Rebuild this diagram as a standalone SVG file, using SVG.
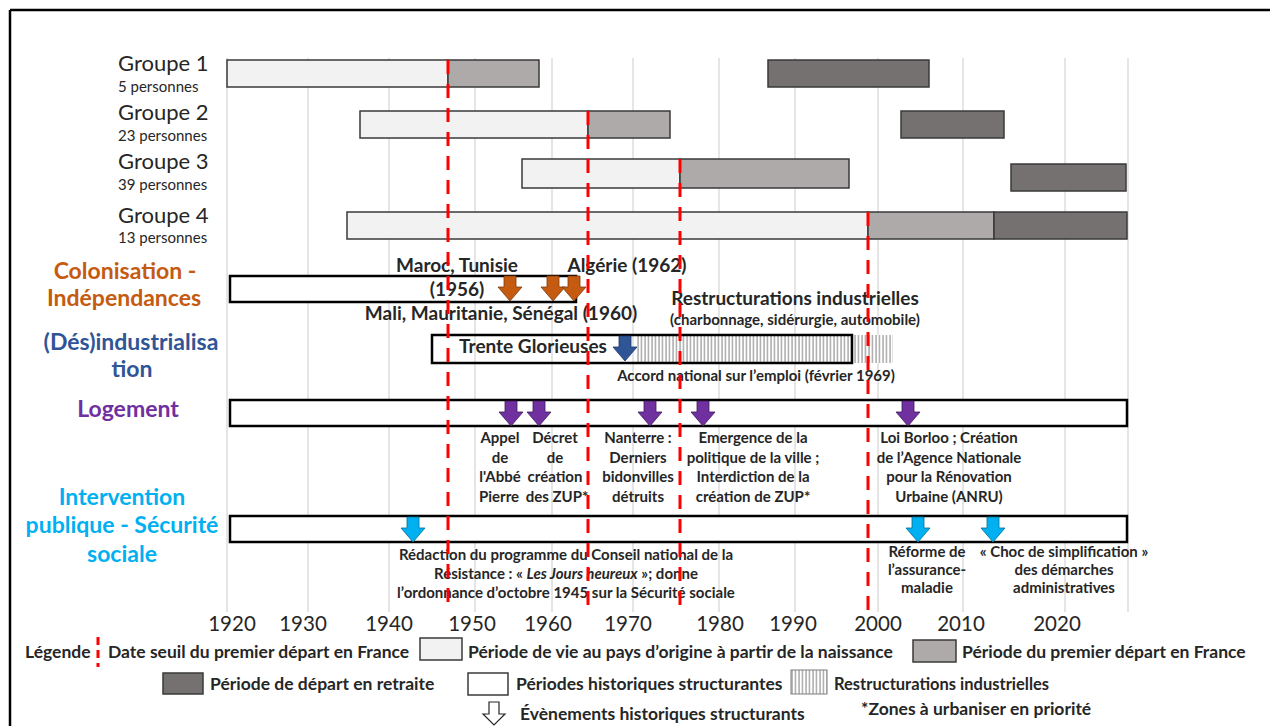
<svg xmlns="http://www.w3.org/2000/svg" width="1270" height="726" viewBox="0 0 1270 726">
<defs>
<style>
text{font-family:Lato,"Liberation Sans",sans-serif;fill:#262626}
.grp{font-size:22px}
.sub{font-size:15px}
.cat{font-size:23px;font-weight:bold;text-anchor:middle}
.b19{font-size:19px;font-weight:bold;text-anchor:middle}
.b15{font-size:15px;font-weight:bold;text-anchor:middle}
.yr{font-size:20.5px;text-anchor:middle}
.lg{font-size:17.5px;font-weight:bold}
.grid{stroke:#dcdcdc;stroke-width:1.5}
.red{stroke:#ff0000;stroke-width:3;stroke-dasharray:14 10;fill:none}
.light{fill:#f2f2f2;stroke:#3a3a3a;stroke-width:1.5}
.med{fill:#aeaaaa;stroke:#3a3a3a;stroke-width:1.5}
.dark{fill:#767171;stroke:#3a3a3a;stroke-width:1.5}
.box{fill:#fff;stroke:#000;stroke-width:2.5}
.ao{fill:#c55a11;stroke:#7f3a0b;stroke-width:0.8}
.ab{fill:#2f5597;stroke:#1f3864;stroke-width:0.8}
.ap{fill:#7030a0;stroke:#3d1a58;stroke-width:0.8}
.ac{fill:#00b0f0;stroke:#006d96;stroke-width:0.8}
</style>
<pattern id="hatch" width="3.5" height="10" patternUnits="userSpaceOnUse">
<rect width="3.5" height="10" fill="#fff"/>
<line x1="1" y1="0" x2="1" y2="10" stroke="#7f7f7f" stroke-width="1"/>
</pattern>
<path id="arr" d="M-6,0 h12 v11 h6 l-12,14 l-12,-14 h6 z"/>
</defs>
<rect width="1270" height="726" fill="#fff"/>
<g id="frame" stroke="#000" stroke-width="2.5">
<line x1="10" y1="10" x2="1270" y2="10"/>
<line x1="10" y1="10" x2="10" y2="726"/>
</g>
<g id="gridlines" class="grid">
<line x1="227" y1="58" x2="227" y2="612"/>
<line x1="308" y1="58" x2="308" y2="612"/>
<line x1="389" y1="58" x2="389" y2="612"/>
<line x1="475" y1="58" x2="475" y2="612"/>
<line x1="552" y1="58" x2="552" y2="612"/>
<line x1="633" y1="58" x2="633" y2="612"/>
<line x1="719" y1="58" x2="719" y2="612"/>
<line x1="795" y1="58" x2="795" y2="612"/>
<line x1="878" y1="58" x2="878" y2="612"/>
<line x1="963" y1="58" x2="963" y2="612"/>
<line x1="1065" y1="58" x2="1065" y2="612"/>
<line x1="1128" y1="58" x2="1128" y2="612"/>
</g>
<g id="groupe1">
<text class="grp" x="118" y="71">Groupe 1</text>
<text class="sub" x="118" y="92">5 personnes</text>
<rect class="light" x="227" y="60" width="221" height="27"/>
<rect class="med" x="448" y="60" width="91" height="27"/>
<rect class="dark" x="768" y="60" width="161" height="27"/>
</g>
<g id="groupe2">
<text class="grp" x="118" y="120">Groupe 2</text>
<text class="sub" x="118" y="141">23 personnes</text>
<rect class="light" x="360" y="111" width="228" height="27"/>
<rect class="med" x="588" y="111" width="82" height="27"/>
<rect class="dark" x="901" y="111" width="103" height="27"/>
</g>
<g id="groupe3">
<text class="grp" x="118" y="169">Groupe 3</text>
<text class="sub" x="118" y="190">39 personnes</text>
<rect class="light" x="522" y="159" width="158" height="29"/>
<rect class="med" x="680" y="159" width="169" height="29"/>
<rect class="dark" x="1011" y="164" width="115" height="27"/>
</g>
<g id="groupe4">
<text class="grp" x="118" y="223">Groupe 4</text>
<text class="sub" x="118" y="243">13 personnes</text>
<rect class="light" x="347" y="212" width="521" height="27"/>
<rect class="med" x="868" y="212" width="126" height="27"/>
<rect class="dark" x="994" y="212" width="133" height="27"/>
</g>
<g id="colonisation">
<text class="cat" x="125" y="279" style="fill:#c55a11">Colonisation -</text>
<text class="cat" x="124" y="306" style="fill:#c55a11">Indépendances</text>
<rect class="box" x="230" y="276" width="346" height="26"/>
<use href="#arr" x="510" y="276" class="ao"/>
<use href="#arr" x="553" y="276" class="ao"/>
<use href="#arr" x="574" y="276" class="ao"/>
<text class="b19" x="457" y="272">Maroc, Tunisie</text>
<text class="b19" x="457" y="296">(1956)</text>
<text class="b19" x="627" y="272">Algérie (1962)</text>
<text class="b19" x="501" y="320">Mali, Mauritanie, Sénégal (1960)</text>
</g>
<g id="desindustrialisation">
<text class="cat" x="131" y="350" style="fill:#2f5597">(Dés)industrialisa</text>
<text class="cat" x="132" y="377" style="fill:#2f5597">tion</text>
<rect x="852" y="335" width="41" height="28" fill="url(#hatch)"/>
<rect x="636" y="335" width="216" height="28" fill="url(#hatch)"/>
<rect class="box" x="432" y="335" width="420" height="28" style="fill:none"/>
<use href="#arr" x="625" y="336" class="ab"/>
<text class="b19" x="533" y="353">Trente Glorieuses</text>
<text class="b19" x="795" y="305">Restructurations industrielles</text>
<text class="b15" x="795" y="325">(charbonnage, sidérurgie, automobile)</text>
<text class="b15" x="756" y="381">Accord national sur l’emploi (février 1969)</text>
</g>
<g id="logement">
<text class="cat" x="128" y="417" style="fill:#7030a0">Logement</text>
<rect class="box" x="230" y="400" width="897" height="26"/>
<use href="#arr" x="511" y="401" class="ap"/>
<use href="#arr" x="539" y="401" class="ap"/>
<use href="#arr" x="650" y="401" class="ap"/>
<use href="#arr" x="703" y="401" class="ap"/>
<use href="#arr" x="908" y="401" class="ap"/>
<text class="b15" x="500" y="443">Appel</text>
<text class="b15" x="500" y="463">de</text>
<text class="b15" x="500" y="482">l'Abbé</text>
<text class="b15" x="499" y="502">Pierre</text>
<text class="b15" x="555" y="443">Décret</text>
<text class="b15" x="555" y="463">de</text>
<text class="b15" x="555" y="482">création</text>
<text class="b15" x="557" y="502">des ZUP*</text>
<text class="b15" x="638" y="443">Nanterre :</text>
<text class="b15" x="638" y="463">Derniers</text>
<text class="b15" x="638" y="482">bidonvilles</text>
<text class="b15" x="638" y="502">détruits</text>
<text class="b15" x="753" y="443">Emergence de la</text>
<text class="b15" x="753" y="463">politique de la ville ;</text>
<text class="b15" x="753" y="482">Interdiction de la</text>
<text class="b15" x="753" y="502">création de ZUP*</text>
<text class="b15" x="949" y="443">Loi Borloo ; Création</text>
<text class="b15" x="949" y="463">de l’Agence Nationale</text>
<text class="b15" x="949" y="482">pour la Rénovation</text>
<text class="b15" x="949" y="502">Urbaine (ANRU)</text>
</g>
<g id="intervention">
<text class="cat" x="122" y="505" style="fill:#00b0f0">Intervention</text>
<text class="cat" x="122" y="533" style="fill:#00b0f0">publique - Sécurité</text>
<text class="cat" x="122" y="562" style="fill:#00b0f0">sociale</text>
<rect class="box" x="230" y="516" width="897" height="26"/>
<use href="#arr" x="413" y="517" class="ac"/>
<use href="#arr" x="918" y="517" class="ac"/>
<use href="#arr" x="993" y="517" class="ac"/>
<text class="b15" x="566" y="560">Rédaction du programme du Conseil national de la</text>
<text class="b15" x="566" y="579">Résistance : « <tspan font-style="italic">Les Jours heureux</tspan> »; donne</text>
<text class="b15" x="566" y="598">l’ordonnance d’octobre 1945 sur la Sécurité sociale</text>
<text class="b15" x="927" y="557">Réforme de</text>
<text class="b15" x="927" y="575">l’assurance-</text>
<text class="b15" x="927" y="593">maladie</text>
<text class="b15" x="1064" y="557">« Choc de simplification »</text>
<text class="b15" x="1064" y="575">des démarches</text>
<text class="b15" x="1064" y="593">administratives</text>
</g>
<g id="seuils">
<line class="red" x1="448" y1="60" x2="448" y2="612"/>
<line class="red" x1="588" y1="111" x2="588" y2="612"/>
<line class="red" x1="680" y1="159" x2="680" y2="612"/>
<line class="red" x1="868" y1="212" x2="868" y2="612"/>
</g>
<g id="axis">
<text class="yr" x="232" y="631">1920</text>
<text class="yr" x="303" y="631">1930</text>
<text class="yr" x="389" y="631">1940</text>
<text class="yr" x="472" y="631">1950</text>
<text class="yr" x="548" y="631">1960</text>
<text class="yr" x="628" y="631">1970</text>
<text class="yr" x="720" y="631">1980</text>
<text class="yr" x="793" y="631">1990</text>
<text class="yr" x="878" y="631">2000</text>
<text class="yr" x="961" y="631">2010</text>
<text class="yr" x="1057" y="631">2020</text>
</g>
<g id="legende">
<text class="lg" x="25" y="658">Légende</text>
<line x1="98" y1="637" x2="98" y2="667" stroke="#ff0000" stroke-width="3" stroke-dasharray="8 5"/>
<text class="lg" x="108" y="658">Date seuil du premier départ en France</text>
<rect class="light" x="420" y="638" width="42" height="22"/>
<text class="lg" x="468" y="658">Période de vie au pays d’origine à partir de la naissance</text>
<rect class="med" x="913" y="640" width="43" height="22"/>
<text class="lg" x="962" y="658">Période du premier départ en France</text>
<rect class="dark" x="163" y="673" width="40" height="21"/>
<text class="lg" x="210" y="690">Période de départ en retraite</text>
<rect class="light" x="468" y="673" width="40" height="22" style="fill:#fff"/>
<text class="lg" x="516" y="690">Périodes historiques structurantes</text>
<rect x="791" y="670" width="36" height="24" fill="url(#hatch)" stroke="#7f7f7f" stroke-width="1"/>
<text class="lg" x="834" y="690" style="font-size:16.5px">Restructurations  industrielles</text>
<path d="M489,702 h10 v12 h6 l-11,11 l-11,-11 h6 z" fill="#fff" stroke="#262626" stroke-width="1.2"/>
<text class="lg" x="520" y="720">Évènements historiques structurants</text>
<text class="lg" x="861" y="715">*Zones à urbaniser en priorité</text>
</g>
</svg>
